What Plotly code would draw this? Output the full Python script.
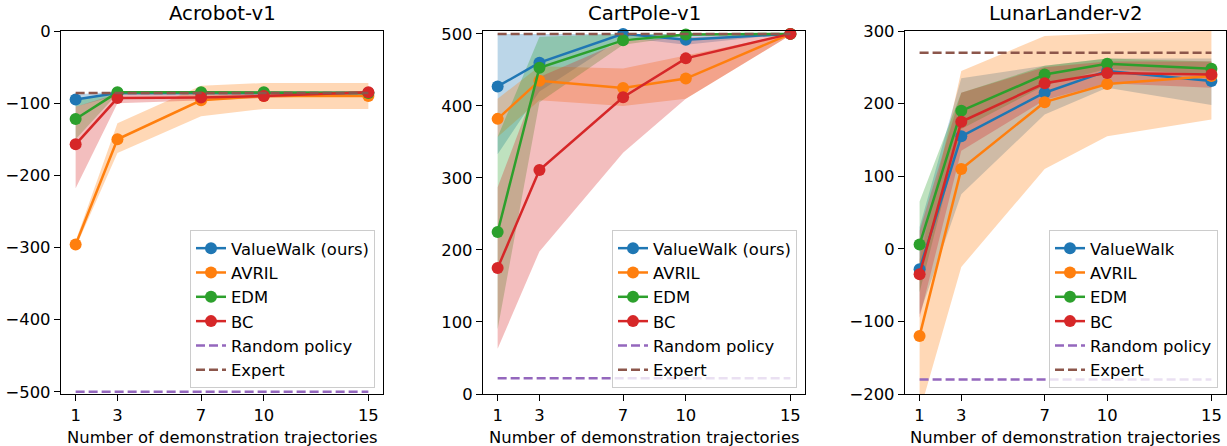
import plotly.graph_objects as go

# ---------------- data ----------------
x_traj = [1, 3, 7, 10, 15]
x_tick_labels = ["1", "3", "7", "10", "15"]

env_titles = ["Acrobot-v1", "CartPole-v1", "LunarLander-v2"]
method_names = ["ValueWalk", "AVRIL", "EDM", "BC"]
x_title = "Number of demonstration trajectories"

# Acrobot-v1
acro_valuewalk = [-95, -86, -86, -86, -86]
acro_valuewalk_lo = [-105, -89, -89, -89, -89]
acro_valuewalk_hi = [-88, -84, -84, -84, -84]
acro_avril = [-296, -150, -96, -90, -90]
acro_avril_lo = [-300, -169, -118, -108, -108]
acro_avril_hi = [-291, -128, -76, -72, -72]
acro_edm = [-122, -85, -85, -85, -86]
acro_edm_lo = [-150, -87, -87, -87, -88]
acro_edm_hi = [-96, -84, -84, -84, -84]
acro_bc = [-157, -93, -92, -90, -85]
acro_bc_lo = [-218, -100, -96, -93, -88]
acro_bc_hi = [-105, -87, -88, -87, -83]
acro_expert = -86
acro_random = -500

# CartPole-v1
cart_valuewalk = [427, 460, 500, 492, 500]
cart_valuewalk_lo = [333, 420, 495, 485, 500]
cart_valuewalk_hi = [500, 500, 500, 500, 500]
cart_avril = [382, 435, 425, 438, 500]
cart_avril_lo = [357, 408, 400, 410, 498]
cart_avril_hi = [410, 455, 452, 470, 500]
cart_edm = [225, 453, 491, 499, 500]
cart_edm_lo = [90, 405, 485, 497, 500]
cart_edm_hi = [357, 496, 500, 500, 500]
cart_bc = [175, 311, 412, 466, 500]
cart_bc_lo = [63, 198, 335, 410, 498]
cart_bc_hi = [287, 440, 490, 495, 500]
cart_expert = 500
cart_random = 22

# LunarLander-v2
lunar_valuewalk = [-28, 155, 215, 245, 231]
lunar_valuewalk_lo = [-90, 75, 185, 222, 198]
lunar_valuewalk_hi = [30, 235, 252, 262, 262]
lunar_avril = [-120, 110, 202, 227, 238]
lunar_avril_lo = [-225, -25, 110, 155, 178]
lunar_avril_hi = [-15, 245, 293, 297, 300]
lunar_edm = [6, 190, 240, 255, 248]
lunar_edm_lo = [-60, 165, 225, 248, 240]
lunar_edm_hi = [65, 215, 252, 262, 258]
lunar_bc = [-35, 175, 228, 242, 240]
lunar_bc_lo = [-95, 135, 205, 228, 222]
lunar_bc_hi = [25, 215, 250, 258, 258]
lunar_expert = 270
lunar_random = -180

panels = [
    dict(means=[acro_valuewalk, acro_avril, acro_edm, acro_bc],
         los=[acro_valuewalk_lo, acro_avril_lo, acro_edm_lo, acro_bc_lo],
         his=[acro_valuewalk_hi, acro_avril_hi, acro_edm_hi, acro_bc_hi],
         expert=acro_expert, random=acro_random, yrange=[-503, 0],
         yticks=[0, -100, -200, -300, -400, -500], vw_label="ValueWalk (ours)"),
    dict(means=[cart_valuewalk, cart_avril, cart_edm, cart_bc],
         los=[cart_valuewalk_lo, cart_avril_lo, cart_edm_lo, cart_bc_lo],
         his=[cart_valuewalk_hi, cart_avril_hi, cart_edm_hi, cart_bc_hi],
         expert=cart_expert, random=cart_random, yrange=[0, 504],
         yticks=[0, 100, 200, 300, 400, 500], vw_label="ValueWalk (ours)"),
    dict(means=[lunar_valuewalk, lunar_avril, lunar_edm, lunar_bc],
         los=[lunar_valuewalk_lo, lunar_avril_lo, lunar_edm_lo, lunar_bc_lo],
         his=[lunar_valuewalk_hi, lunar_avril_hi, lunar_edm_hi, lunar_bc_hi],
         expert=lunar_expert, random=lunar_random, yrange=[-200, 300],
         yticks=[-200, -100, 0, 100, 200, 300], vw_label="ValueWalk"),
]

# ---------------- style ----------------
colors = ["#1f77b4", "#ff7f0e", "#2ca02c", "#d62728"]
band_colors = ["rgba(31,119,180,0.3)", "rgba(255,127,14,0.3)",
               "rgba(44,160,44,0.3)", "rgba(214,39,40,0.3)"]
random_color = "#9467bd"
expert_color = "#8c564b"

W, H = 1227, 446
x_doms_px = [(61, 383), (483, 805), (905, 1226)]
y_top_px, y_bot_px = 31, 394
legend_right_px = [375, 797, 1218]
legend_bottom_px = 388

FONT = "DejaVu Sans"
FS = 16.4
TFS = 19.7
fig = go.Figure()

for i, p in enumerate(panels):
    xa = "x" if i == 0 else f"x{i+1}"
    ya = "y" if i == 0 else f"y{i+1}"
    lg = "legend" if i == 0 else f"legend{i+1}"
    for k in range(4):
        fig.add_trace(go.Scatter(
            x=x_traj + x_traj[::-1], y=p["his"][k] + p["los"][k][::-1],
            fill="toself", fillcolor=band_colors[k], line=dict(width=0),
            mode="lines", hoverinfo="skip", showlegend=False,
            xaxis=xa, yaxis=ya))
    for k in range(4):
        name = p["vw_label"] if k == 0 else method_names[k]
        fig.add_trace(go.Scatter(
            x=x_traj, y=p["means"][k], mode="lines+markers", name=name,
            line=dict(color=colors[k], width=2.5),
            marker=dict(color=colors[k], size=12),
            xaxis=xa, yaxis=ya, legend=lg, cliponaxis=False))
    fig.add_trace(go.Scatter(
        x=[x_traj[0], x_traj[-1]], y=[p["random"]] * 2, mode="lines",
        name="Random policy", line=dict(color=random_color, width=2.5, dash="9px,4px"),
        xaxis=xa, yaxis=ya, legend=lg))
    fig.add_trace(go.Scatter(
        x=[x_traj[0], x_traj[-1]], y=[p["expert"]] * 2, mode="lines",
        name="Expert", line=dict(color=expert_color, width=2.5, dash="9px,4px"),
        xaxis=xa, yaxis=ya, legend=lg))

layout = dict(
    width=W, height=H, margin=dict(l=0, r=0, t=0, b=0),
    paper_bgcolor="white", plot_bgcolor="white",
    font=dict(family=FONT, size=FS, color="black"),
    showlegend=True, annotations=[],
)
for i, p in enumerate(panels):
    sfx = "" if i == 0 else str(i + 1)
    x0, x1 = x_doms_px[i]
    dom_x = [x0 / W, x1 / W]
    dom_y = [1 - y_bot_px / H, 1 - y_top_px / H]
    layout["xaxis" + sfx] = dict(
        domain=dom_x, range=[0.3, 15.7], tickvals=x_traj, ticktext=x_tick_labels,
        showline=True, mirror=True, linecolor="black", linewidth=1.3,
        ticks="outside", ticklen=6, tickwidth=1.3, tickcolor="black",
        showgrid=False, zeroline=False,
        anchor="y" + sfx, automargin=False, tickfont=dict(size=FS))
    layout["yaxis" + sfx] = dict(
        domain=dom_y, range=p["yrange"], tickvals=p["yticks"],
        showline=True, mirror=True, linecolor="black", linewidth=1.3,
        ticks="outside", ticklen=6, tickwidth=1.3, tickcolor="black",
        showgrid=False, zeroline=False,
        anchor="x" + sfx, automargin=False, tickfont=dict(size=FS))
    lg = "legend" if i == 0 else f"legend{i+1}"
    layout[lg] = dict(
        x=legend_right_px[i] / W, y=1 - legend_bottom_px / H,
        xanchor="right", yanchor="bottom",
        bgcolor="rgba(255,255,255,0.8)", bordercolor="#cccccc", borderwidth=1,
        font=dict(size=FS, family=FONT), tracegroupgap=0)
    layout["annotations"].append(dict(
        text=env_titles[i], x=(dom_x[0] + dom_x[1]) / 2, y=1 - 14 / H,
        xref="paper", yref="paper", xanchor="center", yanchor="middle",
        showarrow=False, font=dict(size=TFS, family=FONT)))
    layout["annotations"].append(dict(
        text=x_title, x=(dom_x[0] + dom_x[1]) / 2, y=1 - 437 / H,
        xref="paper", yref="paper", xanchor="center", yanchor="middle",
        showarrow=False, font=dict(size=FS, family=FONT)))

fig.update_layout(**layout)
fig.write_html("out.html")
